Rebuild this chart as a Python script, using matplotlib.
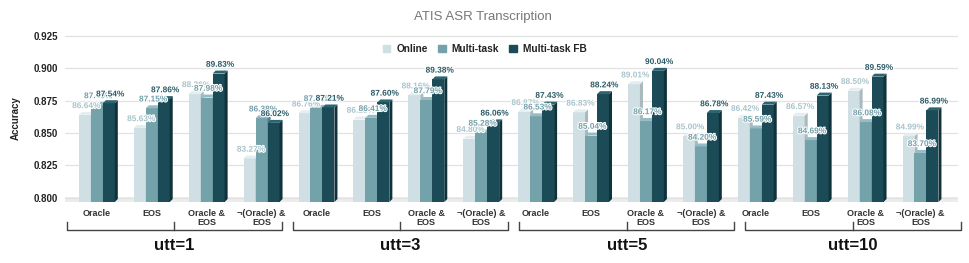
import matplotlib.pyplot as plt
import matplotlib.patheffects as pe
from matplotlib.patches import Polygon, Rectangle
import numpy as np

plt.rcParams['font.family'] = ['Liberation Sans', 'DejaVu Sans']

groups = ["utt=1", "utt=3", "utt=5", "utt=10"]
cats = ["Oracle", "EOS", "Oracle &\nEOS", "\u00ac(Oracle) &\nEOS"]
series = ["Online", "Multi-task", "Multi-task FB"]

# accuracy in %, order: utt=1 (4 cats), utt=3, utt=5, utt=10
online = [86.64, 85.63, 88.26, 83.27,
          86.76, 86.28, 88.16, 84.80,
          86.87, 86.83, 89.01, 85.00,
          86.42, 86.57, 88.50, 84.99]
multitask = [87.40, 87.15, 87.98, 86.38,
             87.18, 86.41, 87.79, 85.28,
             86.53, 85.04, 86.17, 84.20,
             85.59, 84.69, 86.08, 83.70]
multitask_fb = [87.54, 87.86, 89.83, 86.02,
                87.21, 87.60, 89.38, 86.06,
                87.43, 88.24, 90.04, 86.78,
                87.43, 88.13, 89.59, 86.99]

front = ["#cfdfe3", "#74a2ab", "#1b4b57"]
side = ["#a9b9bd", "#557f88", "#10323b"]
topc = ["#e4eef0", "#95bcc4", "#2d6472"]
lab_col = ["#a9c4cb", "#74a0aa", "#2c5c68"]

fig = plt.figure(figsize=(9.70, 2.63), dpi=100)
ax = fig.add_axes([0.067, 0.232, 0.921, 0.635])

BASE = 0.7968
ax.set_ylim(BASE, 0.9258)
ax.set_xlim(-0.58, 15.69)

w = 0.218
dx, dy = 0.055, 0.0023
x = np.arange(len(online))
vals = [online, multitask, multitask_fb]

# floor
ax.axhspan(BASE, 0.8003, color="#ececec", zorder=0.5, lw=0)
for yv in [0.825, 0.85, 0.875, 0.9, 0.925]:
    ax.axhline(yv, color="#e2e2e2", lw=0.9, zorder=0.4)
ax.axhline(0.8, color="#e2e2e2", lw=0.9, zorder=0.6)

for i in range(len(x)):
    for s in range(3):
        v = vals[s][i] / 100
        x0 = x[i] + (s - 1.5) * w
        z = 2 + s
        ax.add_patch(Rectangle((x0, BASE), w, v - dy - BASE, facecolor=front[s], lw=0, zorder=z))
        ax.add_patch(Polygon([(x0 + w, BASE), (x0 + w + dx, BASE + dy), (x0 + w + dx, v), (x0 + w, v - dy)],
                             closed=True, facecolor=side[s], lw=0, zorder=z))
        ax.add_patch(Polygon([(x0, v - dy), (x0 + dx, v), (x0 + w + dx, v), (x0 + w, v - dy)],
                             closed=True, facecolor=topc[s], lw=0, zorder=z))
        ax.text(x0 + w / 2 + dx / 2, v + 0.0014, "%.2f%%" % vals[s][i], ha="center", va="bottom",
                fontsize=6, fontweight="bold", color=lab_col[s], zorder=10,
                path_effects=[pe.withStroke(linewidth=1.5, foreground="white")])

ax.set_yticks([0.8, 0.825, 0.85, 0.875, 0.9, 0.925])
ax.set_yticklabels(["0.800", "0.825", "0.850", "0.875", "0.900", "0.925"], fontsize=7, fontweight="bold", color="#222222")
ax.tick_params(axis="y", length=0, pad=5)
ax.set_xticks(x)
ax.set_xticklabels(cats * 4, fontsize=6.5, fontweight="bold", color="#333333", linespacing=0.95)
ax.tick_params(axis="x", length=0, pad=5)
for sp in ax.spines.values():
    sp.set_visible(False)
ax.set_ylabel("Accuracy", fontsize=7, fontweight="bold", color="#222222", labelpad=9)

# group brackets
trans = ax.get_xaxis_transform()
for g, name in enumerate(groups):
    l = -0.55 + g * 4.12
    r = l + 3.92
    m = (l + r) / 2
    kw = dict(color="#444444", lw=1.0, transform=trans, clip_on=False)
    ax.plot([l, l, r, r], [-0.12, -0.168, -0.168, -0.12], **kw)
    ax.plot([m, m], [-0.168, -0.12], **kw)
    ax.text(m, -0.26, name, transform=trans, ha="center", va="center", fontsize=12, fontweight="bold", color="#111111")

fig.text(0.498, 0.935, "ATIS ASR Transcription", ha="center", va="center", fontsize=9.5, color="#777777")
handles = [Rectangle((0, 0), 1, 1, color=c) for c in front]
ax.legend(handles, series, loc="upper center", bbox_to_anchor=(0.47, 1.0), ncol=3, frameon=False,
          prop={"size": 7.3, "weight": "bold"}, handlelength=0.75, handleheight=0.75, handletextpad=0.6,
          columnspacing=1.0, labelcolor="#222222")

fig.savefig("out.png", dpi=100)
